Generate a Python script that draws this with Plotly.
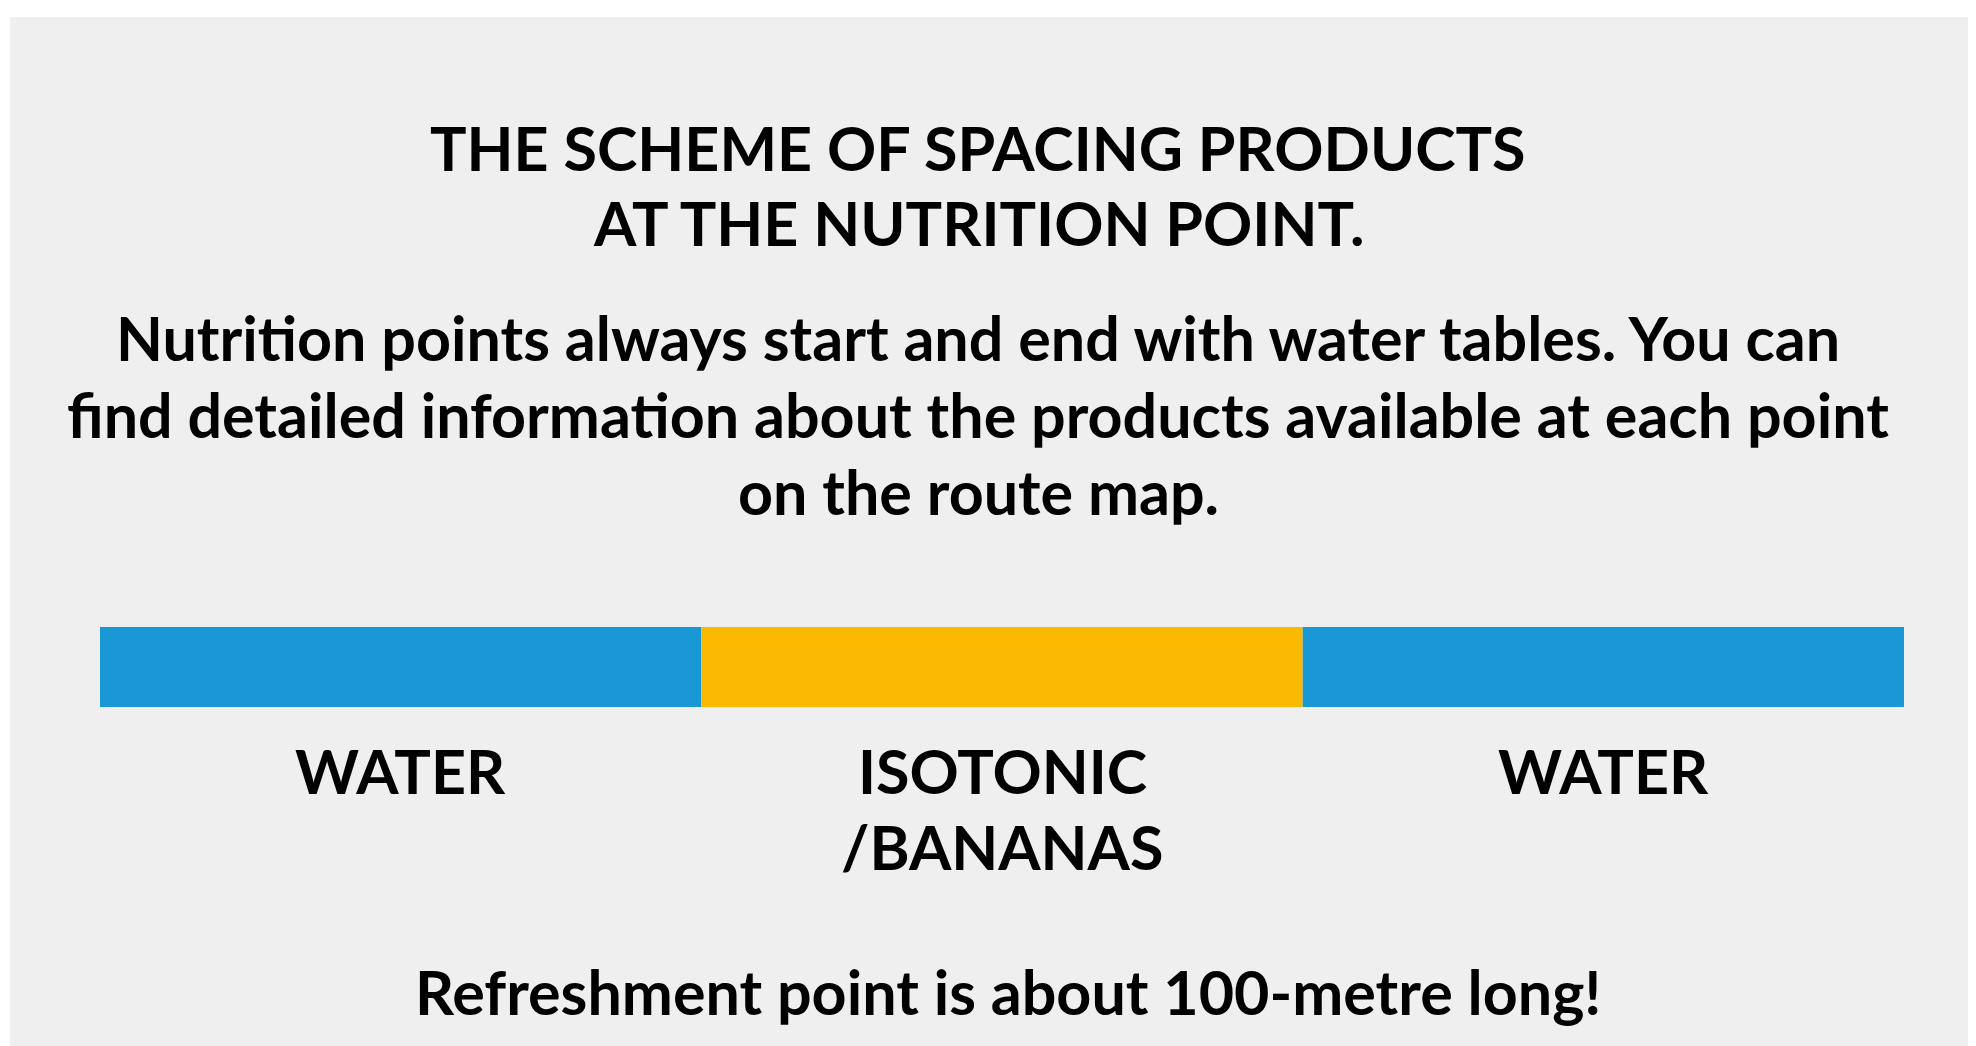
import plotly.graph_objects as go

W, H = 1976, 1046
OFF = 8  # page body margin offset

# Data
segments = ["WATER", "ISOTONIC", "WATER"]
segment_labels = [["WATER"], ["ISOTONIC", "/BANANAS"], ["WATER"]]
segment_lengths = [1, 1, 1]
segment_colors = ["#1998D5", "#FBBA00", "#1998D5"]

title_lines = ["THE SCHEME OF SPACING PRODUCTS", "AT THE NUTRITION POINT."]
para_lines = [
    "Nutrition points always start and end with water tables. You can",
    "find detailed information about the products available at each point",
    "on the route map.",
]
footer = "Refreshment point is about 100-metre long!"

FONT = "Lato, 'Open Sans', sans-serif"
FS = 61

fig = go.Figure()
base = 0
for name, length, col in zip(segments, segment_lengths, segment_colors):
    fig.add_trace(go.Bar(
        x=[length], y=[0], base=[base], orientation="h",
        marker=dict(color=col, line=dict(width=0)), width=1,
        showlegend=False, hoverinfo="skip", name=name,
    ))
    base += length

total = sum(segment_lengths)

def px(p):
    return (p - OFF) / W

def py(p):
    return 1 - (p - OFF) / H

annotations = []
def add_line(text, x, ypix, xref="paper"):
    annotations.append(dict(
        text=f"<b>{text}</b>", x=x, y=py(ypix), xref=xref, yref="paper",
        xanchor="center", yanchor="middle", showarrow=False,
        font=dict(family=FONT, size=FS, color="#000000"),
    ))

cx = px(978)
for i, t in enumerate(title_lines):
    add_line(t, cx, 147 + 76 * i)
for i, t in enumerate(para_lines):
    add_line(t, cx, 337 + 77 * i)

cum = 0
for lines, length in zip(segment_labels, segment_lengths):
    center = cum + length / 2
    for j, t in enumerate(lines):
        add_line(t, center, 770 + 76 * j, xref="x")
    cum += length

add_line(footer, px(1008), 991)

fig.update_layout(
    width=W, height=H,
    margin=dict(l=0, r=0, t=0, b=0),
    paper_bgcolor="#FFFFFF",
    plot_bgcolor="rgba(0,0,0,0)",
    barmode="overlay",
    xaxis=dict(domain=[px(100), px(1904)], range=[0, total], visible=False, fixedrange=True),
    yaxis=dict(domain=[py(707), py(627)], range=[-0.5, 0.5], visible=False, fixedrange=True),
    shapes=[dict(type="rect", xref="paper", yref="paper", x0=px(10), x1=1, y0=0, y1=py(17),
                 fillcolor="#EFEFEF", line=dict(width=0), layer="below")],
    annotations=annotations,
)

fig.write_html("out.html", config={"displayModeBar": False})
